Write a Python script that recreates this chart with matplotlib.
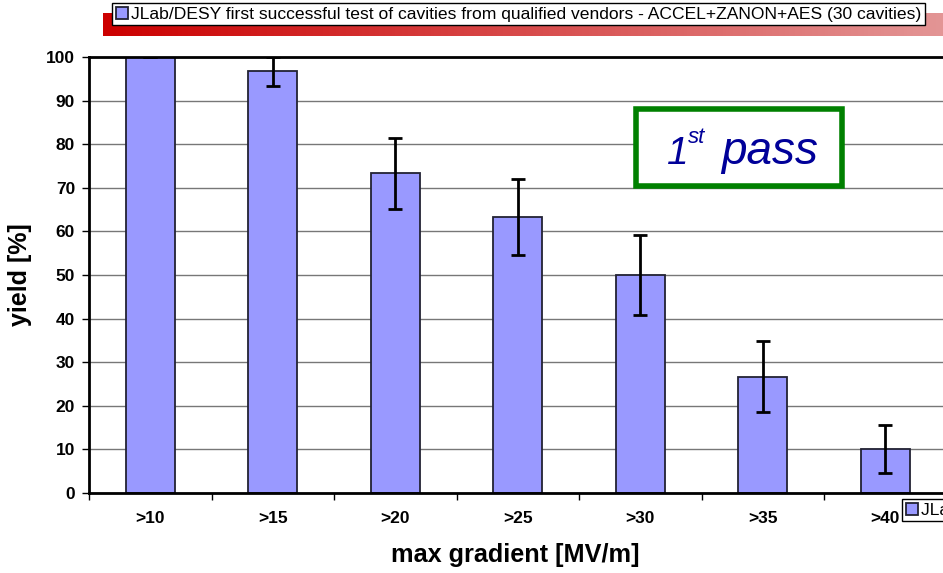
import numpy as np
import matplotlib.pyplot as plt
from matplotlib.patches import Rectangle
from matplotlib.colors import LinearSegmentedColormap

plt.rcParams['font.family'] = ['Liberation Sans', 'DejaVu Sans']

# yield of cavities above each gradient threshold, 30 cavities total
categories = ['>10', '>15', '>20', '>25', '>30', '>35', '>40']
yield_pct = [100.0, 96.7, 73.3, 63.3, 50.0, 26.7, 10.0]
yield_err = [0.0, 3.3, 8.1, 8.8, 9.1, 8.1, 5.5]
series_label = 'JLab/DESY first successful test of cavities from qualified vendors - ACCEL+ZANON+AES (30 cavities)'

W, H = 943, 573
fig = plt.figure(figsize=(W / 100, H / 100), dpi=100)

def fx(px):
    return px / W

def fy(py):
    return 1 - py / H

# red banner behind the top legend
band = fig.add_axes([fx(103), fy(36), fx(943 - 103), (36 - 13) / H])
band.imshow(np.linspace(0, 1, 256)[None, :], aspect='auto',
            cmap=LinearSegmentedColormap.from_list('band', ['#cc0000', '#e39595']))
band.axis('off')

ax = fig.add_axes([fx(89), fy(493), fx(946.5 - 89), (493 - 57) / H])
x = np.arange(len(categories))
bars = ax.bar(x, yield_pct, width=0.4, color='#9999ff', edgecolor='#222233',
              linewidth=1.3, label=series_label, zorder=2)
ax.errorbar(x, yield_pct, yerr=yield_err, fmt='none', ecolor='black',
            elinewidth=2, capsize=5, capthick=2, zorder=3)

ax.set_xlim(-0.5, len(categories) - 0.5)
ax.set_ylim(0, 100)
ax.set_yticks(range(0, 101, 10))
ax.yaxis.grid(True, color='#777777', linewidth=1)
ax.set_axisbelow(True)
ax.tick_params(axis='y', direction='out', length=5, width=1, labelsize=12.5, pad=5)
for t in ax.get_yticklabels():
    t.set_fontweight('bold')

ax.set_xticks(x)
ax.set_xticklabels(categories, fontsize=12.5, fontweight='bold')
ax.tick_params(axis='x', length=0, pad=13)
ax.set_xticks(np.arange(-0.5, len(categories), 1.0), minor=True)
ax.tick_params(axis='x', which='minor', direction='out', length=5, width=1)

for s in ['left', 'bottom', 'top']:
    ax.spines[s].set_linewidth(2)
ax.spines['right'].set_visible(False)

ax.set_ylabel('yield [%]', fontsize=18, fontweight='bold', labelpad=10)
fig.text(fx(515), fy(555), 'max gradient [MV/m]', fontsize=18.2, fontweight='bold',
         ha='center', va='center')

legend_kw = dict(loc='upper left', fontsize=12.6, frameon=True, fancybox=False,
                 edgecolor='black', framealpha=1, handlelength=0.7,
                 handleheight=0.7, handletextpad=0.2, borderpad=0.2,
                 borderaxespad=0)

# top legend box
leg = fig.legend(handles=[bars], labels=[series_label],
                 bbox_to_anchor=(fx(112), fy(3)), **legend_kw)
leg.get_frame().set_linewidth(1)

# second legend in the lower right, running off the edge
leg2 = fig.legend(handles=[bars], labels=[series_label],
                  bbox_to_anchor=(fx(902), fy(499)), **legend_kw)
leg2.get_frame().set_linewidth(1)

# "1st pass" tag
fig.patches.append(Rectangle((fx(636), fy(186)), fx(842 - 636), (186 - 109) / H,
                             transform=fig.transFigure, facecolor='white',
                             edgecolor='#008000', linewidth=4, zorder=5))
tag_color = '#000099'
fig.text(fx(667), fy(164), '1', fontsize=28, style='italic', color=tag_color,
         ha='left', va='baseline', zorder=6)
fig.text(fx(688), fy(143), 'st', fontsize=16, style='italic', color=tag_color,
         ha='left', va='baseline', zorder=6)
fig.text(fx(721), fy(164), 'pass', fontsize=33, style='italic', color=tag_color,
         ha='left', va='baseline', zorder=6)

fig.savefig('out.png', dpi=100)
